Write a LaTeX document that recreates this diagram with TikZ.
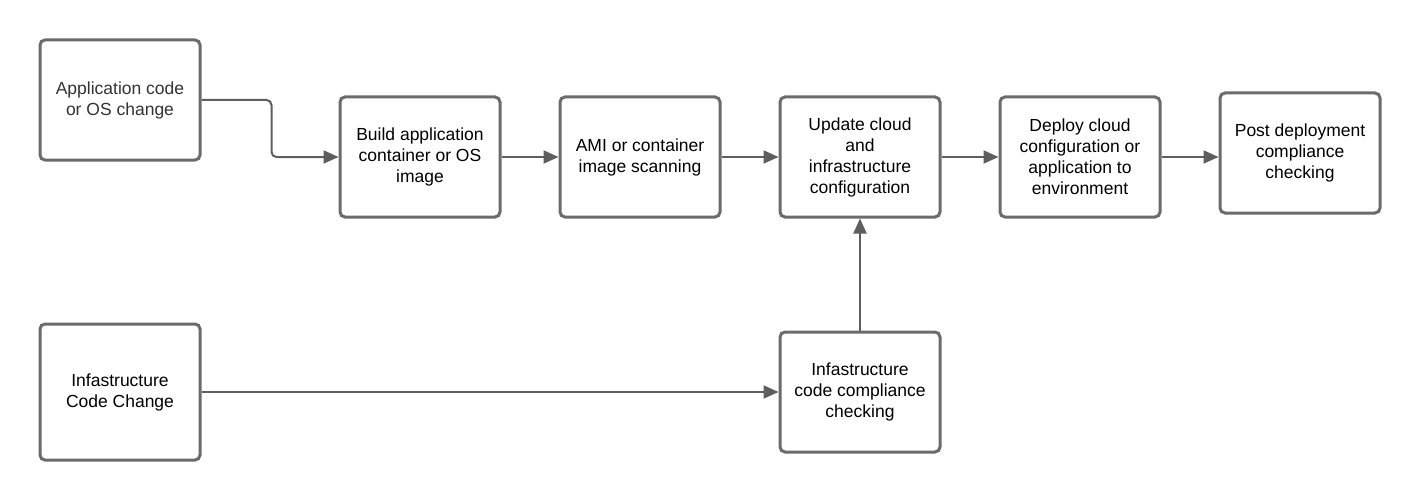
\documentclass[tikz,border=0pt]{standalone}
\usepackage{fontspec}
\setmainfont{Liberation Sans}
\usetikzlibrary{arrows.meta}
\definecolor{boxline}{HTML}{6B6B6B}
\definecolor{flowline}{HTML}{5E5E5E}
\definecolor{softtext}{HTML}{333333}
\tikzset{
  stage/.style={draw=boxline, line width=3pt, rounded corners=5pt, fill=white,
    minimum width=160pt, minimum height=120pt, align=center, inner sep=0pt,
    font=\fontsize{17.5}{21}\selectfont},
  flow/.style={draw=flowline, line width=2pt, -{Triangle[length=15pt,width=13pt]}}
}
\begin{document}
\begin{tikzpicture}[x=1pt,y=-1pt]
      \useasboundingbox (0,0) rectangle (1420,500);
      \draw
        (120,100) node[stage, text=softtext] (app){Application code\\or OS change}
        (420,157) node[stage] (build){Build application\\container or OS\\image}
        (640,157) node[stage] (ami){AMI or container\\image scanning}
        (860,157) node[stage] (update){Update cloud\\and\\infrastructure\\configuration}
        (1080,157) node[stage] (deploy){Deploy cloud\\configuration or\\application to\\environment}
        (1300,153) node[stage] (post){Post deployment\\compliance\\checking}
        (120,392) node[stage, minimum height=136pt] (infra){Infastructure\\Code Change}
        (860,392) node[stage] (check){Infastructure\\code compliance\\checking};
      \begin{scope}[flow]
        \draw[rounded corners=5pt] (app.east) -- ++(70,0) |- (build.west);
        \draw (build) to (ami);
        \draw (ami) to (update);
        \draw (update) to (deploy);
        \draw (deploy) to (deploy -| post.west);
        \draw (infra) to (check);
        \draw (check) to (update);
      \end{scope}
    \end{tikzpicture}
\end{document}
